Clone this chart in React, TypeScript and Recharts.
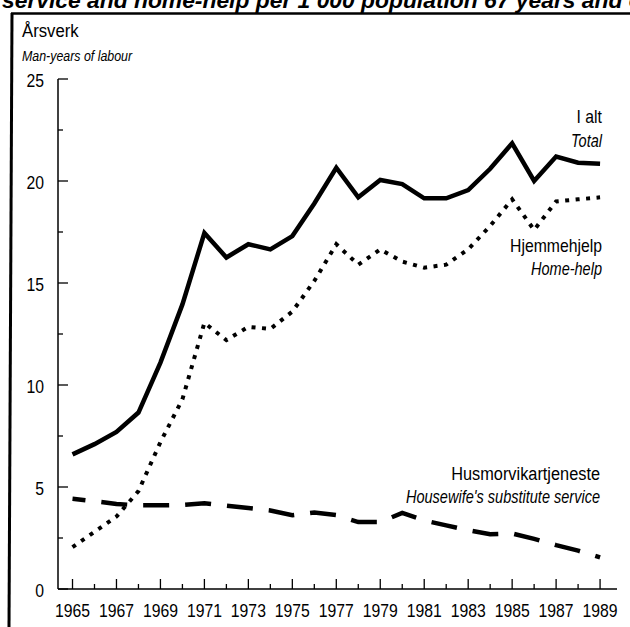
import React from 'react';
import { LineChart, Line, XAxis, YAxis } from 'recharts';

const years = [1965, 1966, 1967, 1968, 1969, 1970, 1971, 1972, 1973, 1974, 1975, 1976, 1977, 1978, 1979, 1980, 1981, 1982, 1983, 1984, 1985, 1986, 1987, 1988, 1989];
const total = [6.6, 7.1, 7.7, 8.65, 11.1, 13.95, 17.45, 16.25, 16.9, 16.65, 17.3, 18.9, 20.65, 19.2, 20.05, 19.85, 19.15, 19.15, 19.55, 20.6, 21.85, 20.0, 21.2, 20.9, 20.85];
const homeHelp = [2.05, 2.8, 3.55, 4.8, 7.2, 9.3, 13.05, 12.2, 12.85, 12.75, 13.6, 15.1, 16.9, 15.9, 16.65, 16.05, 15.75, 15.9, 16.65, 17.8, 19.1, 17.6, 19.0, 19.1, 19.2];
const housewife = [4.42, 4.3, 4.17, 4.1, 4.1, 4.12, 4.2, 4.08, 3.97, 3.85, 3.62, 3.75, 3.62, 3.28, 3.28, 3.73, 3.36, 3.12, 2.88, 2.68, 2.72, 2.46, 2.15, 1.88, 1.55];
const yTicks = [0, 2.5, 5, 7.5, 10, 12.5, 15, 17.5, 20, 22.5, 25];

const data = years.map((year, i) => ({ year, total: total[i], homeHelp: homeHelp[i], housewife: housewife[i] }));

const FONT = "'Liberation Sans', Arial, sans-serif";

const NT = (props: any) => {
  const { x, y, sx = 0.83, children, ...rest } = props;
  return (
    <text transform={`translate(${x},${y}) scale(${sx},1)`} x={0} y={0} fontFamily={FONT} fill="#000" {...rest}>
      {children}
    </text>
  );
};

const YTick = (props: any) => {
  const { x, y, payload } = props;
  const v = payload.value;
  const major = v % 5 === 0;
  return (
    <g>
      <line x1={x} x2={x + (major ? 10 : 5)} y1={y} y2={y} stroke="#000" strokeWidth={1.3} />
      {major && (
        <NT x={x - 14} y={y + 8} textAnchor="end" fontSize={19}>{v}</NT>
      )}
    </g>
  );
};

const XTick = (props: any) => {
  const { x, y, payload } = props;
  const v = payload.value;
  const major = v % 2 === 1;
  return (
    <g>
      <line x1={x} x2={x} y1={y} y2={y - (major ? 10 : 5)} stroke="#000" strokeWidth={1.3} />
      {major && (
        <NT x={x} y={y + 27.5} textAnchor="middle" fontSize={19}>{v}</NT>
      )}
    </g>
  );
};

export default function App() {
  return (
    <div style={{ position: 'absolute', left: 0, top: 0, width: 630, height: 627, background: '#fff', overflow: 'hidden' }}>
      <LineChart width={630} height={627} data={data} margin={{ top: 79, right: 13, bottom: 0, left: 0 }}>
        <XAxis
          dataKey="year"
          type="number"
          domain={[1964.34, 1989.77]}
          ticks={years}
          interval={0}
          tick={<XTick />}
          tickLine={false}
          tickSize={0}
          tickMargin={0}
          height={38}
          axisLine={{ stroke: '#000', strokeWidth: 1.5 }}
        />
        <YAxis
          type="number"
          domain={[0, 25]}
          ticks={yTicks}
          interval={0}
          tick={<YTick />}
          tickLine={false}
          tickSize={0}
          tickMargin={0}
          width={58}
          axisLine={{ stroke: '#000', strokeWidth: 1.5 }}
        />
        <Line dataKey="total" stroke="#000" strokeWidth={4.5} dot={false} isAnimationActive={false} strokeLinejoin="miter" />
        <Line dataKey="homeHelp" stroke="#000" strokeWidth={4} strokeDasharray="4 6.5" dot={false} isAnimationActive={false} />
        <Line dataKey="housewife" stroke="#000" strokeWidth={4.5} strokeDasharray="26 16" strokeDashoffset={13} dot={false} isAnimationActive={false} />
      </LineChart>
      <svg width={630} height={627} style={{ position: 'absolute', left: 0, top: 0, pointerEvents: 'none' }}>
        <text x={2} y={8} fontSize={22} fontWeight={700} fontStyle="italic" fontFamily={FONT} textLength={675} lengthAdjust="spacingAndGlyphs">service and home-help per 1 000 population 67 years and over</text>
        <line x1={11} y1={13.5} x2={630} y2={13.5} stroke="#000" strokeWidth={2.5} />
        <line x1={12} y1={13} x2={9} y2={627} stroke="#000" strokeWidth={3} />
        <NT x={22} y={37} sx={0.88} fontSize={19}>Årsverk</NT>
        <NT x={22} y={61} sx={0.8} fontSize={15.5} fontStyle="italic">Man-years of labour</NT>
        <NT x={602} y={123} fontSize={19} textAnchor="end">I alt</NT>
        <NT x={602} y={146.5} fontSize={17.5} fontStyle="italic" textAnchor="end">Total</NT>
        <NT x={602} y={251.5} fontSize={19} textAnchor="end">Hjemmehjelp</NT>
        <NT x={602} y={275} fontSize={17.5} fontStyle="italic" textAnchor="end">Home-help</NT>
        <NT x={600} y={480} sx={0.86} fontSize={19} textAnchor="end">Husmorvikartjeneste</NT>
        <NT x={600} y={503} fontSize={17.5} fontStyle="italic" textAnchor="end">Housewife's substitute service</NT>
      </svg>
    </div>
  );
}
